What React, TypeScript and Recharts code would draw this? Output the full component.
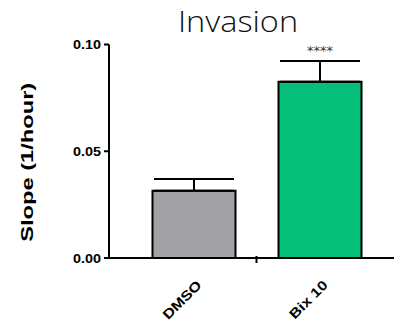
import React from "react"
import { BarChart, Bar, XAxis, YAxis, ErrorBar, Cell, LabelList } from "recharts"

const groups = ["DMSO", "Bix 10"]
const slopes = [0.0315, 0.0826]
const sem = [0.0055, 0.0097]
const stars = ["", "****"]
const colors = ["#a2a1a6", "#05bf7a"]
const yTicks = [0, 0.05, 0.1]

const data = groups.map((g, i) => ({
  name: g,
  slope: slopes[i],
  err: [0, sem[i]],
  sig: stars[i],
}))

const W = 394
const H = 321
const PAD_L = 21.5
const PAD_R = 11.5
const BAND = (W - 109 - PAD_L - PAD_R) / groups.length

const font = "'Liberation Sans', Arial, sans-serif"

function XTick(props: any) {
  const { x, y, payload, index } = props
  const ax = x + 9
  const ay = y + 20
  return (
    <g>
      {index === 0 && (
        <line x1={x + BAND / 2} x2={x + BAND / 2} y1={y - 10} y2={y - 3} stroke="#000" strokeWidth={2} />
      )}
      <text
        x={0}
        y={0}
        transform={`translate(${ax}, ${ay}) rotate(-45) scale(1.2, 1)`}
        textAnchor="end"
        fontFamily={font}
        fontWeight="bold"
        fontSize={13.5}
        fill="#000"
      >
        {payload.value}
      </text>
    </g>
  )
}

function YLabel(props: any) {
  const { viewBox } = props
  const cx = viewBox.x + 33
  const cy = viewBox.y + viewBox.height / 2 + 11
  return (
    <text
      x={cx}
      y={cy}
      transform={`rotate(-90, ${cx}, ${cy})`}
      textAnchor="middle"
      fontFamily={font}
      fontWeight="bold"
      fontSize={16}
      fill="#000"
      textLength={159}
      lengthAdjust="spacingAndGlyphs"
    >
      Slope (1/hour)
    </text>
  )
}

function YTick(props: any) {
  const { x, y, payload } = props
  return (
    <text
      x={x}
      y={y + 4.5}
      textAnchor="end"
      fontFamily={font}
      fontWeight="bold"
      fontSize={12}
      fill="#000"
      textLength={28}
      lengthAdjust="spacingAndGlyphs"
    >
      {payload.value.toFixed(2)}
    </text>
  )
}

export default function App() {
  return (
    <div style={{ position: "absolute", left: 0, top: 0, width: W, height: H, background: "#fff", overflow: "hidden" }}>
      <div
        style={{
          position: "absolute",
          left: 0,
          width: 476,
          top: 3,
          textAlign: "center",
          fontFamily: "'Open Sans', sans-serif",
          fontWeight: 300,
          fontSize: 29,
          lineHeight: "36px",
          color: "#111",
          transform: "scaleX(1.12)",
          transformOrigin: "238px 0",
        }}
      >
        Invasion
      </div>
      <BarChart width={W} height={H} data={data} margin={{ top: 44.5, right: 0, bottom: 0, left: 0 }}>
        <XAxis
          dataKey="name"
          height={63}
          padding={{ left: PAD_L, right: PAD_R }}
          axisLine={{ stroke: "#000", strokeWidth: 2 }}
          tickLine={false}
          tick={<XTick />}
          interval={0}
        />
        <YAxis
          width={109}
          domain={[0, 0.1]}
          ticks={yTicks}
          axisLine={{ stroke: "#000", strokeWidth: 2 }}
          tickLine={{ stroke: "#000", strokeWidth: 2 }}
          tickSize={5}
          tickMargin={3}
          tick={<YTick />}
          label={<YLabel />}
        />
        <Bar dataKey="slope" barSize={83} stroke="#000" strokeWidth={2} isAnimationActive={false}>
          {data.map((d, i) => (
            <Cell key={d.name} fill={colors[i]} />
          ))}
          <ErrorBar dataKey="err" direction="y" width={40} stroke="#000" strokeWidth={2} />
          <LabelList
            dataKey="sig"
            position="top"
            offset={27}
            fill="#333"
            fontFamily="'DejaVu Sans', sans-serif"
            fontSize={13}
          />
        </Bar>
      </BarChart>
    </div>
  )
}
